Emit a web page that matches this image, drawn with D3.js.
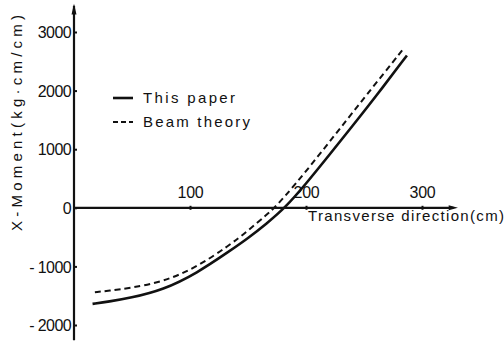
<!DOCTYPE html>
<html>
<head>
<meta charset="utf-8">
<script src="https://cdn.jsdelivr.net/npm/d3@7"></script>
<style>
  html, body { margin: 0; padding: 0; background: #fff; }
  svg { display: block; }
  text { font-family: "Liberation Sans", Arial, sans-serif; fill: #111; }
</style>
</head>
<body>
<script>
// Transverse position (cm) and X-moment (kg·cm/cm)
const paperX = [16, 30, 48, 77, 106, 134, 150, 166, 182, 200, 220, 240, 260, 287];
const paperM = [-1640, -1600, -1540, -1400, -1115, -740, -520, -270, 0, 410, 900, 1395, 1895, 2600];
const beamX = [18, 30, 48, 77, 106, 134, 150, 166, 173, 190, 210, 230, 250, 285];
const beamM = [-1440, -1415, -1370, -1265, -1010, -640, -390, -120, 0, 380, 870, 1370, 1870, 2740];
const xTicks = [100, 200, 300];
const yTicks = [3000, 2000, 1000, 0, -1000, -2000];
const yTickLabels = ["3000", "2000", "1000", "0", "- 1000", "- 2000"];
const legendNames = ["This paper", "Beam theory"];

const W = 504, H = 342;
const svg = d3.select("body").append("svg").attr("width", W).attr("height", H);

const x = d3.scaleLinear().domain([0, 300]).range([74, 422]);
const y = d3.scaleLinear().domain([-2000, 3000]).range([325, 32]);

// y axis: long vertical line with small tick marks
svg.append("line")
  .attr("x1", x(0)).attr("x2", x(0))
  .attr("y1", y(3450)).attr("y2", y(-2260))
  .attr("stroke", "#111").attr("stroke-width", 2.2);
svg.append("path")
  .attr("d", `M${x(0) - 2.5},${y(3300)} L${x(0)},${y(3480)} L${x(0) + 2.5},${y(3300)} Z`)
  .attr("fill", "#111");

const yAxis = svg.append("g")
  .attr("transform", `translate(${x(0)},0)`)
  .call(d3.axisLeft(y).tickValues(yTicks).tickSize(-3)
    .tickFormat((d, i) => yTickLabels[i]));
yAxis.select(".domain").remove();
yAxis.selectAll(".tick line").attr("stroke", "#111").attr("stroke-width", 2);
yAxis.selectAll(".tick text")
  .attr("x", -3).attr("dy", "0.36em")
  .style("font-size", "16px").style("font-family", "Liberation Sans, Arial, sans-serif")
  .style("letter-spacing", "-0.6px").attr("fill", "#111");

// x axis with labels above the line and an arrow at the end
const xAxis = svg.append("g")
  .attr("transform", `translate(0,${y(0)})`)
  .call(d3.axisBottom(x).tickValues(xTicks).tickSize(3).tickSizeOuter(0));
xAxis.select(".domain").remove();
xAxis.selectAll(".tick line").attr("y1", -2).attr("y2", 2).attr("stroke", "#111").attr("stroke-width", 2);
xAxis.selectAll(".tick text")
  .attr("y", -10).attr("dy", 0)
  .style("font-size", "16px").style("font-family", "Liberation Sans, Arial, sans-serif")
  .style("letter-spacing", "-0.3px").attr("fill", "#111");

svg.append("line")
  .attr("x1", x(0)).attr("x2", x(327))
  .attr("y1", y(0)).attr("y2", y(0))
  .attr("stroke", "#111").attr("stroke-width", 2.2);
svg.append("path")
  .attr("d", `M${x(323)},${y(0) - 2.5} L${x(331)},${y(0)} L${x(323)},${y(0) + 2.5} Z`)
  .attr("fill", "#111");

svg.append("text")
  .attr("x", 308).attr("y", y(0) + 13)
  .attr("textLength", 196).attr("lengthAdjust", "spacing")
  .style("font-size", "15px")
  .text("Transverse direction(cm)");

// y axis title
svg.append("text")
  .attr("transform", `translate(22,231) rotate(-90)`)
  .attr("textLength", 216).attr("lengthAdjust", "spacing")
  .style("font-size", "15px")
  .text("X-Moment(kg·cm/cm)");

// curves
const line = d3.line().curve(d3.curveBasis);
const paperPts = paperX.map((v, i) => [x(v), y(paperM[i])]);
const beamPts = beamX.map((v, i) => [x(v), y(beamM[i])]);

svg.append("path").attr("d", line(beamPts))
  .attr("fill", "none").attr("stroke", "#111").attr("stroke-width", 2)
  .attr("stroke-dasharray", "6,4");
svg.append("path").attr("d", line(paperPts))
  .attr("fill", "none").attr("stroke", "#111").attr("stroke-width", 2.6);

// legend
const legend = svg.append("g");
const legendRows = [
  { name: legendNames[0], y: 98, dash: null, w: 2.6, len: 92 },
  { name: legendNames[1], y: 122, dash: "5,3", w: 2, len: 107 }
];
legendRows.forEach(r => {
  legend.append("line")
    .attr("x1", 113).attr("x2", 133).attr("y1", r.y).attr("y2", r.y)
    .attr("stroke", "#111").attr("stroke-width", r.w)
    .attr("stroke-dasharray", r.dash);
  legend.append("text")
    .attr("x", 143).attr("y", r.y + 5)
    .attr("textLength", r.len).attr("lengthAdjust", "spacing")
    .style("font-size", "15px")
    .text(r.name);
});
</script>
</body>
</html>
